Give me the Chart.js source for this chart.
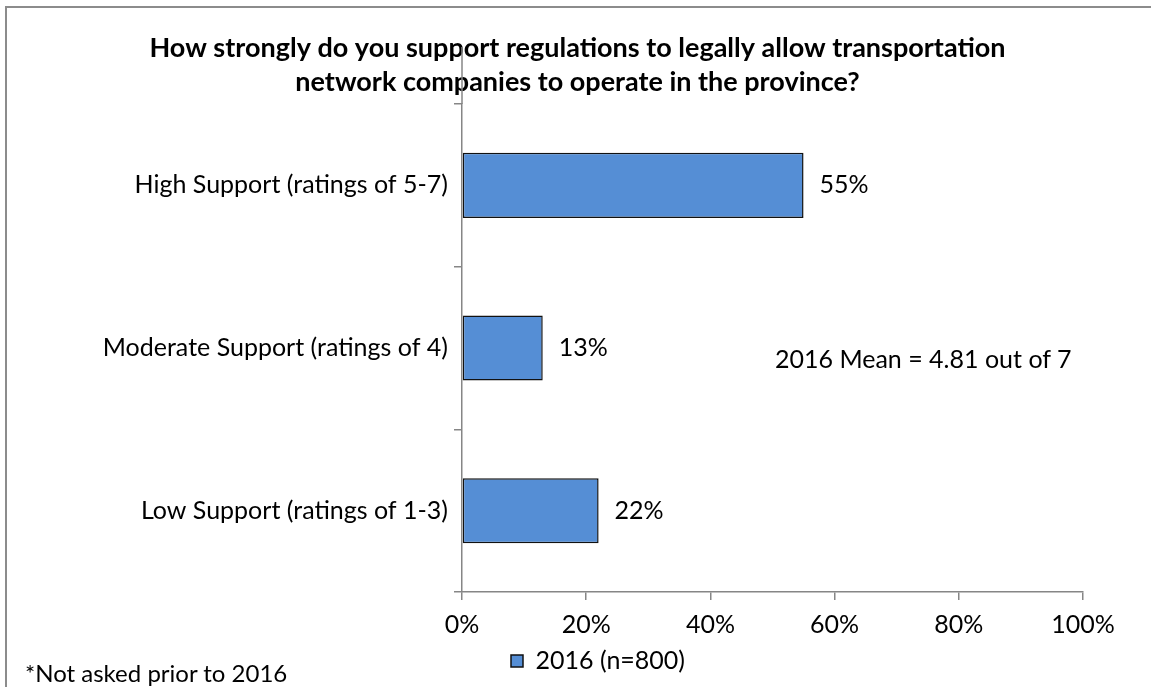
<!DOCTYPE html>
<html>
<head>
<meta charset="utf-8">
<script src="https://cdn.jsdelivr.net/npm/chart.js@4.4.1/dist/chart.umd.min.js"></script>
<style>
  html, body { margin: 0; padding: 0; background: #fff; }
  #wrap { position: relative; width: 1151px; height: 687px; overflow: hidden; font-family: Lato, "Open Sans", sans-serif; }
  #frame { position: absolute; left: 5px; top: 6px; width: 1200px; height: 740px; border-left: 2px solid #8c8c8c; border-top: 2px solid #8c8c8c; }
  #chart { position: absolute; left: 0; top: 0; }
  .note { position: absolute; font-size: 25px; line-height: 30px; color: #000; white-space: nowrap; }
  #mean { left: 775px; top: 343px; }
  #foot { left: 25px; top: 658px; font-size: 24px; }
</style>
</head>
<body>
<div id="wrap">
  <div id="frame"></div>
  <canvas id="chart" width="1151" height="687"></canvas>
  <div class="note" id="mean">2016 Mean = 4.81 out of 7</div>
  <div class="note" id="foot">*Not asked prior to 2016</div>
</div>
<script>
const titleLines = [
  'How strongly do you support regulations to legally allow transportation',
  'network companies to operate in the province?'
];
const categories = [
  'High Support (ratings of 5-7)',
  'Moderate Support (ratings of 4)',
  'Low Support (ratings of 1-3)'
];
const seriesName = '2016 (n=800)';
const values = [55, 13, 22];
const xTicks = [0, 20, 40, 60, 80, 100];

const axisGrey = '#868686';
const barBlue = '#558ed5';
const font = 'Lato, "Open Sans", sans-serif';

// value labels just past the end of each bar
const barLabels = {
  id: 'barLabels',
  afterDatasetsDraw(chart) {
    const ctx = chart.ctx;
    const meta = chart.getDatasetMeta(0);
    ctx.save();
    ctx.font = '25px ' + font;
    ctx.fillStyle = '#000';
    ctx.textBaseline = 'middle';
    ctx.textAlign = 'left';
    meta.data.forEach((bar, i) => {
      ctx.fillText(chart.data.datasets[0].data[i] + '%', bar.x + 16, bar.y);
    });
    ctx.restore();
  }
};

// the value axis line runs a little above the plot area
const axisStub = {
  id: 'axisStub',
  afterDraw(chart) {
    const ctx = chart.ctx;
    const x = chart.chartArea.left;
    ctx.save();
    ctx.strokeStyle = axisGrey;
    ctx.lineWidth = 1.5;
    ctx.beginPath();
    ctx.moveTo(x, 47);
    ctx.lineTo(x, chart.chartArea.top);
    ctx.stroke();
    ctx.restore();
  }
};

// nudge the legend a bit right of the plot's left edge
const legendShift = {
  id: 'legendShift',
  afterLayout(chart) {
    if (chart.legend) {
      chart.legend.left += 41;
      chart.legend.right += 41;
    }
  }
};

new Chart(document.getElementById('chart').getContext('2d'), {
  type: 'bar',
  data: {
    labels: categories,
    datasets: [{
      label: seriesName,
      data: values,
      backgroundColor: barBlue,
      borderColor: '#111',
      borderWidth: 1.5,
      borderSkipped: false,
      categoryPercentage: 1,
      barPercentage: 0.4
    }]
  },
  options: {
    indexAxis: 'y',
    responsive: false,
    animation: false,
    devicePixelRatio: 1,
    layout: { padding: { left: 72, right: 68, top: 0, bottom: 3.5 } },
    plugins: {
      title: {
        display: true,
        text: titleLines,
        color: '#000',
        font: { family: font, size: 27, weight: 'bold', lineHeight: 1.26 },
        padding: { top: 31, bottom: 5 }
      },
      legend: {
        position: 'bottom',
        align: 'start',
        fullSize: false,
        labels: {
          color: '#000',
          font: { family: font, size: 25 },
          boxWidth: 12,
          boxHeight: 12,
          padding: 8,
          generateLabels(chart) {
            const ds = chart.data.datasets[0];
            return [{ text: ds.label, fillStyle: ds.backgroundColor, strokeStyle: '#111', lineWidth: 1.5, datasetIndex: 0 }];
          }
        }
      },
      tooltip: { enabled: false }
    },
    scales: {
      x: {
        min: 0,
        max: 100,
        afterBuildTicks(scale) {
          scale.ticks = xTicks.map(v => ({ value: v }));
        },
        afterFit(scale) { scale.height = 48.5; },
        grid: { drawOnChartArea: false, drawTicks: true, tickLength: 8, color: axisGrey, lineWidth: 1.5 },
        border: { color: axisGrey, width: 1.5 },
        ticks: {
          color: '#000',
          font: { family: font, size: 25 },
          padding: 10,
          maxRotation: 0,
          callback: v => v + '%'
        }
      },
      y: {
        afterFit(scale) { scale.width = 390; },
        grid: { drawOnChartArea: false, drawTicks: true, tickLength: 8, color: axisGrey, lineWidth: 1.5, offset: true },
        border: { color: axisGrey, width: 1.5 },
        ticks: {
          color: '#000',
          font: { family: font, size: 25 },
          padding: 6
        }
      }
    }
  },
  plugins: [barLabels, axisStub, legendShift]
});
</script>
</body>
</html>
